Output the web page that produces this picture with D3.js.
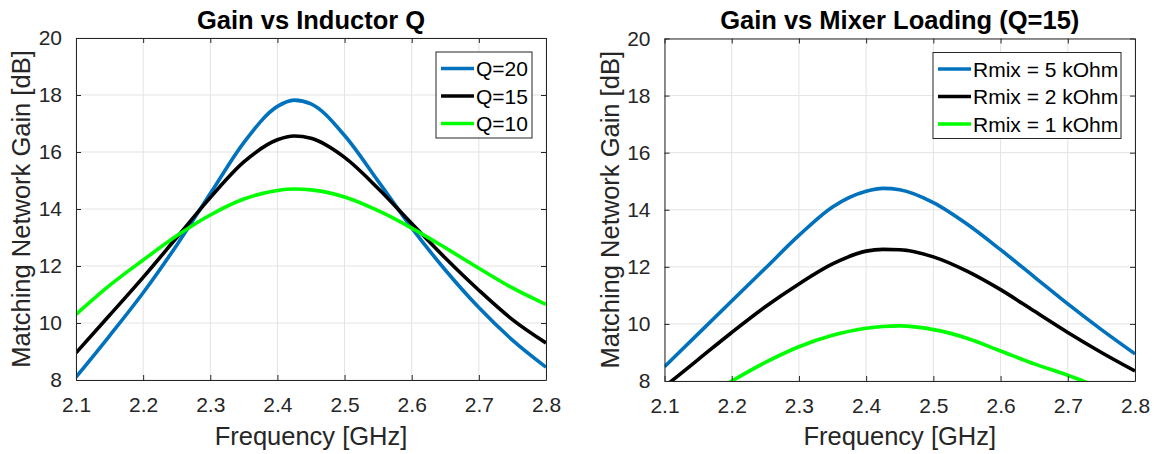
<!DOCTYPE html>
<html>
<head>
<meta charset="utf-8">
<script src="https://cdn.jsdelivr.net/npm/d3@7"></script>
<style>
  body { margin: 0; background: #fff; }
  svg { display: block; }
  text { font-family: "Liberation Sans", Arial, Helvetica, sans-serif; fill: #262626; }
</style>
</head>
<body>
<svg id="chart" width="1157" height="454"></svg>
<script>
// ---------- DATA ----------
const freqGHz = [2.10, 2.15, 2.20, 2.25, 2.30, 2.35, 2.40, 2.425, 2.45, 2.50, 2.55, 2.60, 2.65, 2.70, 2.75, 2.80];

// Left panel: Gain vs Inductor Q
const leftSeriesNames = ["Q=20", "Q=15", "Q=10"];
const gainQ20 = [8.10, 9.55, 11.06, 12.73, 14.54, 16.33, 17.60, 17.82, 17.69, 16.58, 14.98, 13.34, 11.86, 10.54, 9.40, 8.45];
const gainQ15 = [8.95, 10.27, 11.60, 13.00, 14.40, 15.65, 16.43, 16.56, 16.48, 15.81, 14.72, 13.49, 12.28, 11.15, 10.12, 9.30];
const gainQ10 = [10.30, 11.32, 12.21, 13.06, 13.79, 14.35, 14.65, 14.70, 14.67, 14.42, 13.94, 13.33, 12.64, 11.92, 11.23, 10.65];

// Right panel: Gain vs Mixer Loading (Q=15)
const rightSeriesNames = ["Rmix = 5 kOhm", "Rmix = 2 kOhm", "Rmix = 1 kOhm"];
const gainR5k = [8.50, 9.65, 10.80, 11.95, 13.10, 14.10, 14.65, 14.75, 14.70, 14.25, 13.50, 12.60, 11.65, 10.70, 9.80, 8.95];
const gainR2k = [7.80, 8.75, 9.70, 10.60, 11.40, 12.10, 12.55, 12.61, 12.60, 12.35, 11.85, 11.20, 10.45, 9.70, 9.00, 8.35];
const gainR1k = [6.60, 7.30, 8.00, 8.65, 9.20, 9.60, 9.85, 9.91, 9.93, 9.80, 9.50, 9.05, 8.60, 8.20, 7.75, 7.30];

const xTicks = [2.1, 2.2, 2.3, 2.4, 2.5, 2.6, 2.7, 2.8];
const yTicks = [8, 10, 12, 14, 16, 18, 20];
const titles = ["Gain vs Inductor Q", "Gain vs Mixer Loading (Q=15)"];
const xLabel = "Frequency [GHz]";
const yLabel = "Matching Network Gain [dB]";
const colors = ["#0072BD", "#000000", "#00FF00"];

// ---------- LAYOUT ----------
const panels = [
  { left: 76, right: 546, top: 38, bottom: 380, title: titles[0], names: leftSeriesNames,
    series: [gainQ20, gainQ15, gainQ10], legend: { x: 436, y: 52, w: 96, h: 86 } },
  { left: 664.5, right: 1135, top: 38.5, bottom: 381, title: titles[1], names: rightSeriesNames,
    series: [gainR5k, gainR2k, gainR1k], legend: { x: 933, y: 52.5, w: 188, h: 86 } }
];

const svg = d3.select("#chart");
const axisColor = "#262626";

panels.forEach((p, pi) => {
  const x = d3.scaleLinear().domain([2.1, 2.8]).range([p.left, p.right]);
  const y = d3.scaleLinear().domain([8, 20]).range([p.bottom, p.top]);
  const g = svg.append("g");

  // grid
  g.append("g").selectAll("line").data(xTicks).join("line")
    .attr("x1", d => x(d)).attr("x2", d => x(d)).attr("y1", p.top).attr("y2", p.bottom)
    .attr("stroke", "#e3e3e3").attr("stroke-width", 1);
  g.append("g").selectAll("line").data(yTicks).join("line")
    .attr("y1", d => y(d)).attr("y2", d => y(d)).attr("x1", p.left).attr("x2", p.right)
    .attr("stroke", "#e3e3e3").attr("stroke-width", 1);

  // clip
  const clipId = "clip" + pi;
  svg.append("clipPath").attr("id", clipId).append("rect")
    .attr("x", p.left).attr("y", p.top).attr("width", p.right - p.left).attr("height", p.bottom - p.top);

  // lines
  const line = d3.line().curve(d3.curveMonotoneX).x((d, i) => x(freqGHz[i])).y(d => y(d));
  p.series.forEach((s, si) => {
    g.append("path").datum(s).attr("d", line)
      .attr("fill", "none").attr("stroke", colors[si]).attr("stroke-width", 3.6)
      .attr("stroke-linejoin", "round").attr("clip-path", `url(#${clipId})`);
  });

  // axes (box with inward ticks)
  const tickLen = -5;
  const ax = [
    d3.axisBottom(x).tickValues(xTicks).tickFormat(d3.format(".1f")),
    d3.axisTop(x).tickValues(xTicks).tickFormat(""),
    d3.axisLeft(y).tickValues(yTicks).tickFormat(d3.format("d")),
    d3.axisRight(y).tickValues(yTicks).tickFormat("")
  ];
  const trans = [`translate(0,${p.bottom})`, `translate(0,${p.top})`, `translate(${p.left},0)`, `translate(${p.right},0)`];
  ax.forEach((a, ai) => {
    const ag = g.append("g").attr("transform", trans[ai])
      .call(a.tickSizeInner(tickLen).tickSizeOuter(0).tickPadding(ai < 2 ? 17 : 14));
    ag.select(".domain").attr("stroke", axisColor).attr("stroke-width", 1);
    ag.selectAll(".tick line").attr("stroke", axisColor);
    ag.selectAll(".tick text").attr("fill", axisColor)
      .style("font-family", '"Liberation Sans", Arial, sans-serif').style("font-size", "21px");
  });

  // title
  g.append("text").attr("x", (p.left + p.right) / 2).attr("y", 29)
    .attr("text-anchor", "middle").style("font-size", "25.5px").style("font-weight", "bold")
    .style("fill", "#000").text(p.title);
  // x label
  g.append("text").attr("x", (p.left + p.right) / 2).attr("y", 445)
    .attr("text-anchor", "middle").style("font-size", "25.5px").text(xLabel);
  // y label
  g.append("text").attr("transform", `translate(${p.left - 46},${(p.top + p.bottom) / 2}) rotate(-90)`)
    .attr("text-anchor", "middle").style("font-size", "25.5px").text(yLabel);

  // legend
  const L = p.legend;
  g.append("rect").attr("x", L.x).attr("y", L.y).attr("width", L.w).attr("height", L.h)
    .attr("fill", "#fff").attr("stroke", axisColor).attr("stroke-width", 1);
  p.names.forEach((n, i) => {
    const cy = L.y + 16.5 + i * 27.5;
    g.append("line").attr("x1", L.x + 5).attr("x2", L.x + 38).attr("y1", cy).attr("y2", cy)
      .attr("stroke", colors[i]).attr("stroke-width", 3.6);
    g.append("text").attr("x", L.x + 40).attr("y", cy + 7.5).style("font-size", "21px")
      .style("fill", "#000").text(n);
  });
});
</script>
</body>
</html>
